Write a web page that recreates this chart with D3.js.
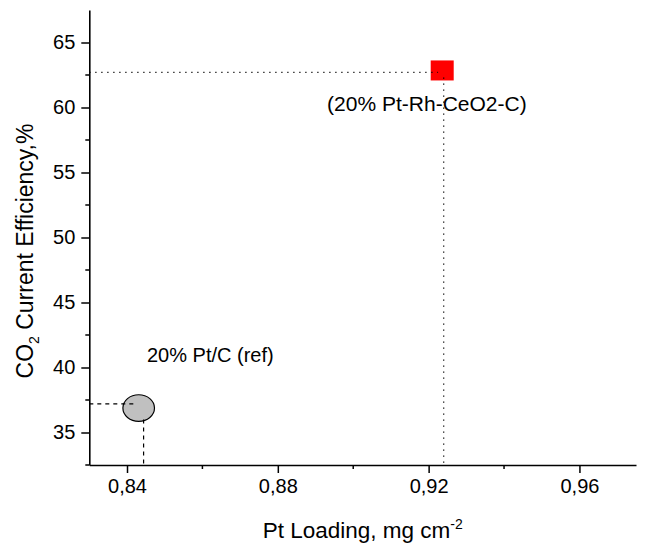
<!DOCTYPE html>
<html lang="en">
<head>
<meta charset="UTF-8">
<title>CO2 Current Efficiency vs Pt Loading</title>
<script src="https://d3js.org/d3.v7.min.js"></script>
<style>
  body { margin: 0; background: #fff; }
  text { font-family: "Liberation Sans", Arial, sans-serif; fill: #000; }
</style>
</head>
<body>
<script>
// data
var samples = ["20% Pt/C (ref)", "(20% Pt-Rh-CeO2-C)"];
var ptLoading = [0.8431, 0.9236];
var co2Efficiency = [36.88, 62.85];
// guide lines to the axes
var guideX = [0.8444, 0.924];
var guideY = [37.2, 62.7];
var guideXEnd = [0.8422, 0.9225];   // where the horizontal guide stops
var guideYTop = [36.0, 62.3];        // where the vertical guide starts
// label anchors
var labelX = [0.8453, 0.946];
var labelY = [40.42, 59.75];

var xTicks = [0.84, 0.88, 0.92, 0.96];
var xMinor = [0.86, 0.90, 0.94];
var yTicks = [35, 40, 45, 50, 55, 60, 65];
var yMinor = [32.5, 37.5, 42.5, 47.5, 52.5, 57.5, 62.5];

var width = 646, height = 546;
var mLeft = 89.3, mRight = 636, mTop = 10, mBottom = 465;

var svg = d3.select("body").append("svg")
    .attr("width", width)
    .attr("height", height);

var x = d3.scaleLinear().domain([0.83, 0.975]).range([mLeft, mRight]);
var y = d3.scaleLinear().domain([32.5, 67.5]).range([mBottom, mTop]);

var fmt = function(d) { return d3.format(".2f")(d).replace(".", ","); };

var g = svg.append("g");

// markers
g.append("ellipse")
    .attr("cx", x(ptLoading[0]))
    .attr("cy", y(co2Efficiency[0]))
    .attr("rx", 15.8)
    .attr("ry", 13.3)
    .attr("fill", "#c0c0c0")
    .attr("stroke", "#000")
    .attr("stroke-width", 1.2);

g.append("rect")
    .attr("x", x(ptLoading[1]) - 11.5)
    .attr("y", y(co2Efficiency[1]) - 10)
    .attr("width", 23)
    .attr("height", 20)
    .attr("fill", "#ff0000");

// guides drawn over the markers, like the original
var dash = ["4,4", "1.2,4.8"];
samples.forEach(function(s, i) {
    g.append("line")
        .attr("x1", mLeft).attr("x2", x(guideXEnd[i]))
        .attr("y1", y(guideY[i])).attr("y2", y(guideY[i]))
        .attr("stroke", "#000").attr("stroke-width", 1.2)
        .attr("stroke-dasharray", dash[i]);
    g.append("line")
        .attr("x1", x(guideX[i])).attr("x2", x(guideX[i]))
        .attr("y1", y(guideYTop[i])).attr("y2", mBottom)
        .attr("stroke", "#000").attr("stroke-width", 1.2)
        .attr("stroke-dasharray", dash[i]);
});

// annotation labels
svg.append("text")
    .attr("x", x(labelX[0])).attr("y", y(labelY[0]))
    .attr("font-size", 20)
    .text(samples[0]);
svg.append("text")
    .attr("x", x(labelX[1])).attr("y", y(labelY[1]))
    .attr("text-anchor", "end")
    .attr("font-size", 21)
    .text(samples[1]);

// axes
var xAxis = svg.append("g")
    .attr("transform", "translate(0," + mBottom + ")")
    .call(d3.axisBottom(x).tickValues(xTicks).tickFormat(fmt).tickSize(8).tickPadding(6).tickSizeOuter(0));
xAxis.selectAll("text").attr("font-size", 20).attr("font-family", "Liberation Sans, Arial, sans-serif");
xAxis.selectAll(".tick line").attr("stroke-width", 1.5);
xAxis.select(".domain").attr("stroke-width", 1.6);
xAxis.selectAll(".minor").data(xMinor).enter().append("line")
    .attr("x1", function(d) { return x(d); }).attr("x2", function(d) { return x(d); })
    .attr("y1", 0).attr("y2", 4)
    .attr("stroke", "#000").attr("stroke-width", 1.5);

var yAxis = svg.append("g")
    .attr("transform", "translate(" + mLeft + ",0)")
    .call(d3.axisLeft(y).tickValues(yTicks).tickSize(8).tickPadding(6).tickSizeOuter(0));
yAxis.selectAll("text").attr("font-size", 20).attr("font-family", "Liberation Sans, Arial, sans-serif");
yAxis.selectAll(".tick line").attr("stroke-width", 1.5);
yAxis.select(".domain").attr("stroke-width", 1.6);
yAxis.selectAll(".minor").data(yMinor).enter().append("line")
    .attr("y1", function(d) { return y(d); }).attr("y2", function(d) { return y(d); })
    .attr("x1", 0).attr("x2", -4)
    .attr("stroke", "#000").attr("stroke-width", 1.5);

// axis titles
var xt = svg.append("text")
    .attr("x", (mLeft + mRight) / 2)
    .attr("y", 538)
    .attr("text-anchor", "middle")
    .attr("font-size", 22.5);
xt.append("tspan").text("Pt Loading, mg cm");
xt.append("tspan").attr("dy", -9).attr("font-size", 14).text("-2");

var yt = svg.append("text")
    .attr("transform", "translate(33,251) rotate(-90)")
    .attr("text-anchor", "middle")
    .attr("font-size", 23);
yt.append("tspan").text("CO");
yt.append("tspan").attr("dy", 6).attr("font-size", 14).text("2");
yt.append("tspan").attr("dy", -6).text(" Current Efficiency,%");
</script>
</body>
</html>
